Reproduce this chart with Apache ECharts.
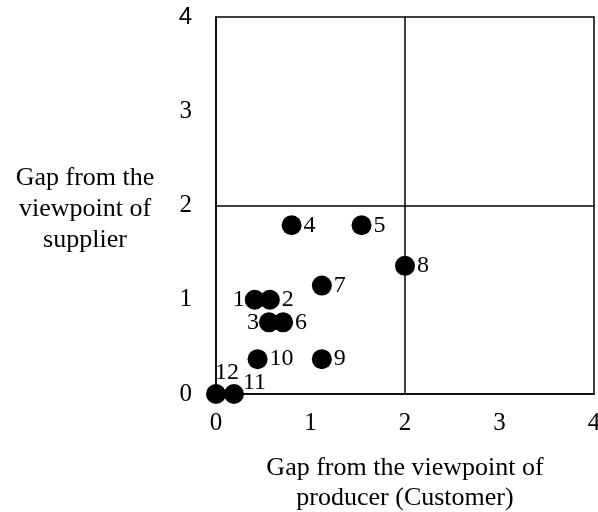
<!DOCTYPE html>
<html><head><meta charset="utf-8">
<script src="https://cdn.jsdelivr.net/npm/echarts@6/dist/echarts.min.js"></script>
<style>html,body{margin:0;padding:0;background:#fff}#c{width:598px;height:512px}</style>
</head><body><div id="c"></div>
<script>
const pointNames = ['1','2','3','4','5','6','7','8','9','10','11','12'];
const xValues = [0.41, 0.57, 0.56, 0.80, 1.54, 0.71, 1.12, 2.00, 1.12, 0.44, 0.19, 0.00];
const yValues = [1.00, 1.00, 0.76, 1.79, 1.79, 0.76, 1.15, 1.36, 0.37, 0.37, 0.00, 0.00];
const xTicks = [0, 1, 2, 3, 4];
const yTicks = [0, 1, 2, 3, 4];
const quadrantX = 2, quadrantY = 2;
const yTitle = 'Gap from the\nviewpoint of\nsupplier';
const xTitle = 'Gap from the viewpoint of\nproducer (Customer)';

const SERIF = 'Liberation Serif';
const labelStyle = {
  '1': {position: 'left', distance: 0},
  '3': {position: 'left', distance: 0},
  '11': {position: 'right', distance: -1, offset: [0, -11]},
  '12': {position: 'top', distance: 5, offset: [11, 6]}
};
const data = pointNames.map((n, i) => {
  const d = {name: n, value: [xValues[i], yValues[i]]};
  if (labelStyle[n]) d.label = labelStyle[n];
  return d;
});

const chart = echarts.init(document.getElementById('c'));
chart.setOption({
  animation: false,
  grid: {left: 216, top: 17, right: 4, bottom: 118, show: true, borderColor: '#000', borderWidth: 1.5, containLabel: false, outerBoundsMode: 'none'},
  xAxis: {
    type: 'value', min: xTicks[0], max: xTicks[xTicks.length - 1], interval: 1,
    axisLine: {show: true, lineStyle: {color: '#000', width: 1.5}},
    axisTick: {show: false}, splitLine: {show: false},
    axisLabel: {color: '#000', fontFamily: SERIF, fontSize: 25, margin: 17}
  },
  yAxis: {
    type: 'value', min: yTicks[0], max: yTicks[yTicks.length - 1], interval: 1,
    axisLine: {show: true, lineStyle: {color: '#000', width: 1.5}},
    axisTick: {show: false}, splitLine: {show: false},
    axisLabel: {color: '#000', fontFamily: SERIF, fontSize: 25, margin: 24,
      formatter: v => v === 4 ? '{s|4}' : String(v),
      rich: {s: {fontFamily: 'Liberation Sans', fontSize: 24, color: '#000'}}}
  },
  graphic: [
    {type: 'text', x: 85, y: 209, style: {text: yTitle, align: 'center', verticalAlign: 'middle', fontFamily: SERIF, fontSize: 26, lineHeight: 31, fill: '#000'}},
    {type: 'text', x: 405, y: 483, style: {text: xTitle, align: 'center', verticalAlign: 'middle', fontFamily: SERIF, fontSize: 26, lineHeight: 30, fill: '#000'}}
  ],
  series: [{
    type: 'scatter',
    symbolSize: 20,
    itemStyle: {color: '#000', opacity: 1},
    data: data,
    label: {show: true, position: 'right', distance: 2, formatter: p => p.name, color: '#000', opacity: 1, fontFamily: SERIF, fontSize: 24},
    markLine: {
      silent: true, symbol: 'none', label: {show: false},
      lineStyle: {color: '#000', width: 1.5, type: 'solid', opacity: 1},
      data: [{xAxis: quadrantX}, {yAxis: quadrantY}]
    },
    z: 3
  }]
});
</script></body></html>
